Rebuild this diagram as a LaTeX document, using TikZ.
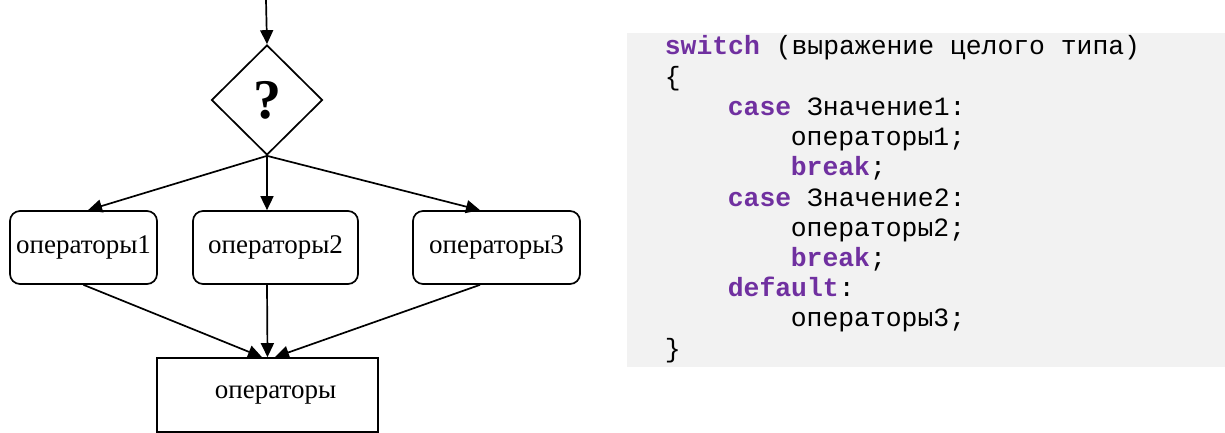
\documentclass[tikz,border=0pt]{standalone}
\usepackage{fontspec}
\setmainfont{Liberation Serif}
\setmonofont{Liberation Mono}
\usetikzlibrary{shapes.geometric,arrows.meta}
\definecolor{kwpurple}{HTML}{7030A0}
\definecolor{panelgray}{HTML}{F2F2F2}
\newcommand{\kw}[1]{\textbf{\color{kwpurple}#1}}
\begin{document}
\begin{tikzpicture}[
	x=0.5pt, y=-0.5pt,
	line width=0.85pt,
	decision/.style={diamond, draw, minimum width=55.5pt, minimum height=55pt, inner sep=0pt, font=\fontsize{28}{28}\selectfont\bfseries},
	opbox/.style={draw, rectangle, rounded corners=5pt, minimum height=36.5pt, inner sep=1pt, font=\fontsize{13.5}{15}\selectfont},
	endbox/.style={draw, rectangle, minimum width=110.5pt, minimum height=37pt, inner sep=1pt, font=\fontsize{13.5}{15}\selectfont},
	codeline/.style={anchor=base west, inner sep=0pt, font=\fontsize{13.2}{15}\selectfont\ttfamily},
	connect/.style={-{Triangle[length=7pt,width=6.5pt]}},
	]
	\useasboundingbox (0,0) rectangle (1225,433);
	
	%-----------------------
	% Customizable heights
	%-----------------------
	\def\hq{100}
	\def\hops{247.5}
	\def\hend{395}
	
	%-----------------------
	% Flowchart
	%-----------------------
	\coordinate (in) at (266,0);
	\node[decision] (Q) at (267,\hq) {?};
	
	\node[opbox, minimum width=73.5pt] (op1) at (83.5,\hops) {операторы1};
	\node[opbox, minimum width=82.5pt] (op2) at (275.5,\hops) {операторы2};
	\node[opbox, minimum width=83.5pt] (op3) at (496.5,\hops) {операторы3};
	
	\node[endbox] (ops) at (267.5,\hend) {\hspace{8pt}операторы};
	
	%-----------------------
	% Connections
	%-----------------------
	\draw[connect] (in) -- (Q.north);
	
	% decision -> branches
	\draw[connect] (Q.south) -- ([xshift=2.25pt]op1.north);
	\draw[connect] (Q.south) -- ([xshift=-4.25pt]op2.north);
	\draw[connect] (Q.south) -- ([xshift=-8.25pt]op3.north);
	
	% branches -> operators
	\draw[connect] (op1.south) -- ([xshift=-2.75pt]ops.north);
	\draw[connect] ([xshift=-4.25pt]op2.south) -- (ops.north);
	\draw[connect] ([xshift=-8.25pt]op3.south) -- ([xshift=3.75pt]ops.north);
	
	%-----------------------
	% Code listing
	%-----------------------
	\node[fill=panelgray, draw=none, minimum width=299.5pt, minimum height=167pt, anchor=north west, inner sep=0pt] (panel) at (626,32) {};
	
	\foreach \ind/\txt [count=\i] in {
		0/{\kw{switch} (выражение целого типа)},
		0/{\{},
		63/{\kw{case} Значение1:},
		126/{операторы1;},
		126/{\kw{break};},
		63/{\kw{case} Значение2:},
		126/{операторы2;},
		126/{\kw{break};},
		63/{\kw{default}:},
		126/{операторы3;},
		0/{\}}}
		\node[codeline] (line\i) at ({664+\ind},{55+30.2*(\i-1)}) {\txt};
	
\end{tikzpicture}
\end{document}
